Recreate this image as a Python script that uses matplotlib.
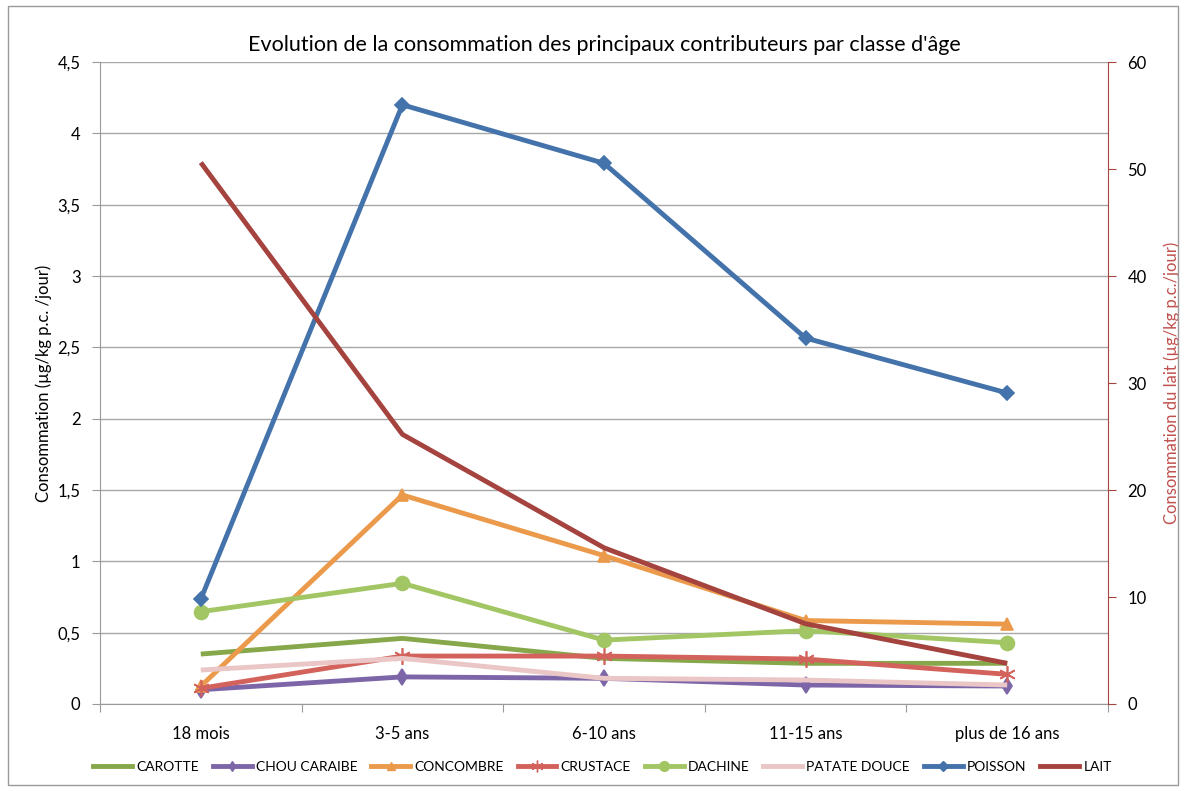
import matplotlib
matplotlib.use("Agg")
import matplotlib.pyplot as plt
from matplotlib.lines import Line2D
from matplotlib.patches import Rectangle

plt.rcParams['font.family'] = ['Lato', 'DejaVu Sans']

categories = ["18 mois", "3-5 ans", "6-10 ans", "11-15 ans", "plus de 16 ans"]
carotte = [0.35, 0.46, 0.32, 0.285, 0.285]
chou_caraibe = [0.10, 0.19, 0.18, 0.133, 0.126]
concombre = [0.125, 1.465, 1.04, 0.585, 0.56]
crustace = [0.11, 0.336, 0.336, 0.315, 0.208]
dachine = [0.647, 0.846, 0.448, 0.514, 0.43]
patate_douce = [0.238, 0.32, 0.18, 0.168, 0.133]
poisson = [0.735, 4.20, 3.79, 2.565, 2.18]
lait = [50.6, 25.2, 14.6, 7.5, 3.8]

fig = plt.figure(figsize=(11.86, 7.91), dpi=100)
ax = fig.add_axes([100/1186, 87/791, 1008/1186, 642/791])
ax2 = ax.twinx()

x = list(range(len(categories)))
series = [
    ("CAROTTE", carotte, "#86A84A", None, 0),
    ("CHOU CARAIBE", chou_caraibe, "#7D66A8", "d", 8),
    ("CONCOMBRE", concombre, "#EB9A4C", "^", 9),
    ("CRUSTACE", crustace, "#D2625B", (6, 2, 0), 12),
    ("DACHINE", dachine, "#A2C663", "o", 10),
    ("PATATE DOUCE", patate_douce, "#EAC6C6", None, 0),
    ("POISSON", poisson, "#4373AA", "D", 7),
]
handles = []
for name, vals, col, mk, ms in series:
    ax.plot(x, vals, color=col, lw=3.5, marker=mk, markersize=ms,
            markeredgecolor=col, markerfacecolor=col, markeredgewidth=1.2,
            solid_capstyle='butt', zorder=3)
    handles.append(Line2D([], [], color=col, lw=3.5, marker=mk,
                          markersize=ms*0.7 if ms else 0, markeredgecolor=col,
                          markerfacecolor=col))
lait_col = "#A5433F"
ax2.plot(x, lait, color=lait_col, lw=3.5, solid_capstyle='butt', zorder=3)
handles.append(Line2D([], [], color=lait_col, lw=3.5))

ax.set_ylim(0, 4.5)
ax2.set_ylim(0, 60)
ax.set_xlim(-0.5, 4.5)
ax.set_yticks([0, 0.5, 1, 1.5, 2, 2.5, 3, 3.5, 4, 4.5])
ax.set_yticklabels(["0", "0,5", "1", "1,5", "2", "2,5", "3", "3,5", "4", "4,5"])
ax2.set_yticks([0, 10, 20, 30, 40, 50, 60])
ax.grid(axis='y', color='#a8a8a8', lw=1)
ax.set_axisbelow(True)

ax.set_xticks([-0.5, 0.5, 1.5, 2.5, 3.5, 4.5])
ax.set_xticklabels([])
ax.set_xticks(x, minor=True)
ax.set_xticklabels(categories, minor=True)
ax.tick_params(axis='x', which='minor', length=0, pad=16, labelsize=12)
ax.tick_params(axis='x', which='major', length=6, color='#9a9a9a', direction='out')
ax.tick_params(axis='y', length=6, color='#9a9a9a', labelsize=12, pad=8)
ax2.tick_params(axis='y', length=6, color=lait_col, labelsize=12, pad=8)

for a in (ax, ax2):
    a.spines['top'].set_visible(False)
ax.spines['left'].set_color('#9a9a9a')
ax.spines['bottom'].set_color('#9a9a9a')
ax2.spines['left'].set_visible(False)
ax2.spines['bottom'].set_visible(False)
ax2.spines['right'].set_color(lait_col)
ax.spines['right'].set_visible(False)

ax.set_ylabel("Consommation (µg/kg p.c. /jour)", fontsize=12, labelpad=4)
ax2.set_ylabel("Consommation du lait (µg/kg p.c./jour)", fontsize=12,
               color="#C0504D", labelpad=12)
ax.set_title("Evolution de la consommation des principaux contributeurs par classe d'âge",
             fontsize=15.5, pad=8)

names = [s[0] for s in series] + ["LAIT"]
fig.legend(handles, names, loc='center', bbox_to_anchor=(0.508, 24/791), ncol=8,
           frameon=False, fontsize=10, handlelength=2.8, columnspacing=1.0,
           handletextpad=0.3)

fig.patches.append(Rectangle((8/1186, 6/791), 1170/1186, 779/791,
                             transform=fig.transFigure, fill=False,
                             edgecolor='#9a9a9a', lw=1))
fig.savefig("out.png", dpi=100)
